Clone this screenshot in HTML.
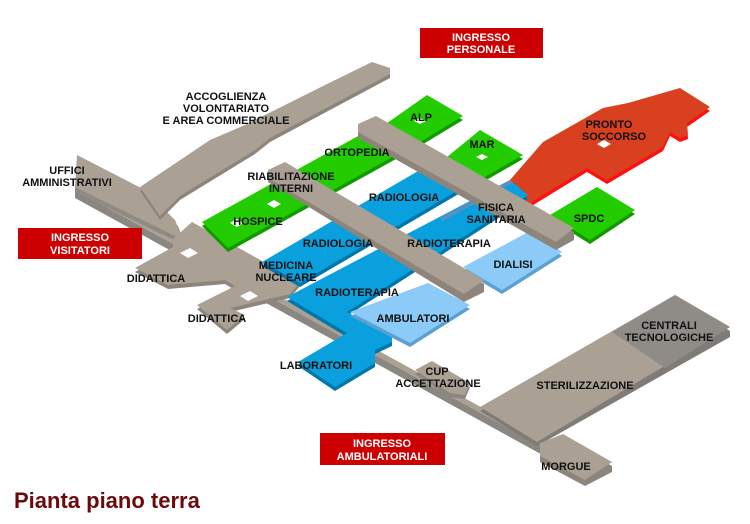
<!DOCTYPE html>
<html><head><style>
body{margin:0;background:#fff;}
svg{display:block;}
text{font-family:"Liberation Sans",Arial,sans-serif;font-weight:bold;font-size:11px;text-anchor:middle;fill:#111;}
.w{fill:#fff;font-size:11px;}
</style></head><body>
<svg width="750" height="524" viewBox="0 0 750 524">
<defs>
<g id="acc"><polygon points="140,187 210,140 245,125 325,85 372,62 390,68 390,74 270,138 255,150 180,196 160,216"/></g>
</defs>
<!-- spine -->
<polygon fill="#8a8680" points="75,190 590,473 590,481 75,198"/>
<polygon fill="#aaa094" points="75,184 590,467 590,473 75,190"/>
<!-- Uffici block -->
<polygon fill="#8f8a84" points="77,159 145,194 178,226 186,246 75,192"/>
<polygon fill="#aaa094" points="77,155 145,190 175,220 183,240 75,187"/>
<!-- accoglienza -->
<use href="#acc" fill="#8d857c" transform="translate(0,4)"/>
<use href="#acc" fill="#aaa094"/>
<!-- didattica & hub -->
<polygon fill="#8d857c" points="135,272 173,251 172,244 192,226 300,286 290,298 230,312 245,319 227,334 197,309 235,290 225,284 168,289"/>
<polygon fill="#aaa094" points="135,268 173,247 172,240 192,222 300,282 290,294 230,308 245,315 227,330 197,305 235,286 225,280 168,285"/>
<polygon fill="#fff" points="180,253 190,248 198,253 188,258"/>
<polygon fill="#fff" points="240,296 250,291 258,296 248,301"/>
<!-- green band -->
<polygon fill="#119900" points="202,226 380,128 405,154 228,252"/>
<polygon fill="#22cc00" points="202,222 380,124 405,150 228,248"/>
<polygon fill="#fff" points="230,223 237,219 244,223 237,227"/>
<polygon fill="#fff" points="267,204 274,200 281,204 274,208"/>
<!-- ALP MAR SPDC -->
<polygon fill="#119900" points="383,130 427,99 463,120 420,146"/>
<polygon fill="#22cc00" points="383,126 427,95 463,116 420,142"/>
<polygon fill="#fff" points="414,121 420,118 426,121 420,124"/>
<polygon fill="#119900" points="447,161 480,134 523,159 483,182"/>
<polygon fill="#22cc00" points="447,157 480,130 523,155 483,178"/>
<polygon fill="#fff" points="476,157 482,154 488,157 482,160"/>
<polygon fill="#119900" points="550,219 597,191 635,214 590,244"/>
<polygon fill="#22cc00" points="550,215 597,187 635,210 590,240"/>
<!-- red -->
<polygon fill="#ff1010" points="543,146 603,112 628,107 680,92 710,111 687,127 688,139 680,142 670,136 663,151 607,184 587,172 530,207 503,192"/>
<polygon fill="#d84020" points="543,142 603,108 628,103 680,88 710,107 687,123 688,135 680,138 670,132 663,147 607,180 587,168 530,203 503,188"/>
<polygon fill="#fff" points="597,144 604,140 611,144 604,148"/>
<!-- blue bands -->
<polygon fill="#0077aa" points="262,266 425,171 462,192 300,287"/>
<polygon fill="#0aa0dd" points="262,262 425,167 462,188 300,283"/>
<polygon fill="#0077aa" points="287,301 510,184 528,199 347,316 392,340 392,346 375,354 375,367 335,391 298,366 347,337"/>
<polygon fill="#0aa0dd" points="287,297 510,180 528,195 347,312 392,336 392,342 375,350 375,363 335,387 298,362 347,333"/>
<polygon fill="#5a8fc0" points="440,218 510,180 513,183 443,221"/>
<!-- light blue -->
<polygon fill="#5aa0d0" points="350,316 428,287 470,309 410,347"/>
<polygon fill="#8ccbf7" points="350,312 428,283 470,305 410,343"/>
<polygon fill="#5aa0d0" points="463,271 532,234 562,256 502,294"/>
<polygon fill="#8ccbf7" points="463,267 532,230 562,252 502,290"/>
<!-- crosswalks -->
<polygon fill="#8d857c" points="358,128 376,120 574,232 574,240 556,250 358,138"/>
<polygon fill="#aaa094" points="358,124 376,116 574,228 556,242 358,132"/>
<polygon fill="#8d857c" points="268,174 285,166 484,284 484,292 464,302 268,182"/>
<polygon fill="#aaa094" points="268,170 285,162 484,280 464,294 268,178"/>
<!-- CUP -->
<polygon fill="#8d857c" points="415,374 432,365 470,387 465,399 450,397"/>
<polygon fill="#aaa094" points="415,370 432,361 470,383 465,395 450,393"/>
<!-- sterilizzazione -->
<polygon fill="#7f7b76" points="480,411 675,299 730,331 730,337 537,446"/>
<polygon fill="#aaa094" points="480,407 675,295 730,327 537,442"/>
<polygon fill="#8f8c88" points="612,332 675,295 730,327 665,368"/>
<!-- morgue -->
<polygon fill="#8d857c" points="540,447 563,438 612,466 612,472 585,486 540,462"/>
<polygon fill="#aaa094" points="540,443 563,434 612,462 585,480 540,456"/>

<!-- red labels -->
<rect x="420" y="28" width="123" height="30" fill="#cc0000"/>
<text class="w" x="481" y="41">INGRESSO</text><text class="w" x="481" y="53">PERSONALE</text>
<rect x="18" y="228" width="124" height="31" fill="#cc0000"/>
<text class="w" x="80" y="241">INGRESSO</text><text class="w" x="80" y="254">VISITATORI</text>
<rect x="320" y="433" width="125" height="32" fill="#cc0000"/>
<text class="w" x="382" y="447">INGRESSO</text><text class="w" x="382" y="460">AMBULATORIALI</text>

<text x="226" y="100">ACCOGLIENZA</text><text x="226" y="112">VOLONTARIATO</text><text x="226" y="124">E AREA COMMERCIALE</text>
<text x="67" y="174">UFFICI</text><text x="67" y="186">AMMINISTRATIVI</text>
<text x="421" y="121">ALP</text>
<text x="482" y="148">MAR</text>
<text x="357" y="156">ORTOPEDIA</text>
<text x="291" y="180">RIABILITAZIONE</text><text x="291" y="192">INTERNI</text>
<text x="258" y="225">HOSPICE</text>
<text x="404" y="201">RADIOLOGIA</text>
<text x="496" y="211">FISICA</text><text x="496" y="223">SANITARIA</text>
<text x="589" y="222">SPDC</text>
<text x="609" y="128">PRONTO</text><text x="614" y="140">SOCCORSO</text>
<text x="338" y="247">RADIOLOGIA</text>
<text x="449" y="247">RADIOTERAPIA</text>
<text x="513" y="268">DIALISI</text>
<text x="156" y="282">DIDATTICA</text>
<text x="286" y="269">MEDICINA</text><text x="286" y="281">NUCLEARE</text>
<text x="357" y="296">RADIOTERAPIA</text>
<text x="217" y="322">DIDATTICA</text>
<text x="413" y="322">AMBULATORI</text>
<text x="316" y="369">LABORATORI</text>
<text x="437" y="375">CUP</text><text x="438" y="387">ACCETTAZIONE</text>
<text x="585" y="389">STERILIZZAZIONE</text>
<text x="669" y="329">CENTRALI</text><text x="669" y="341">TECNOLOGICHE</text>
<text x="566" y="470">MORGUE</text>
<text x="14" y="508" style="font-size:22px;text-anchor:start;fill:#6b0a0a;">Pianta piano terra</text>
</svg>
</body></html>
